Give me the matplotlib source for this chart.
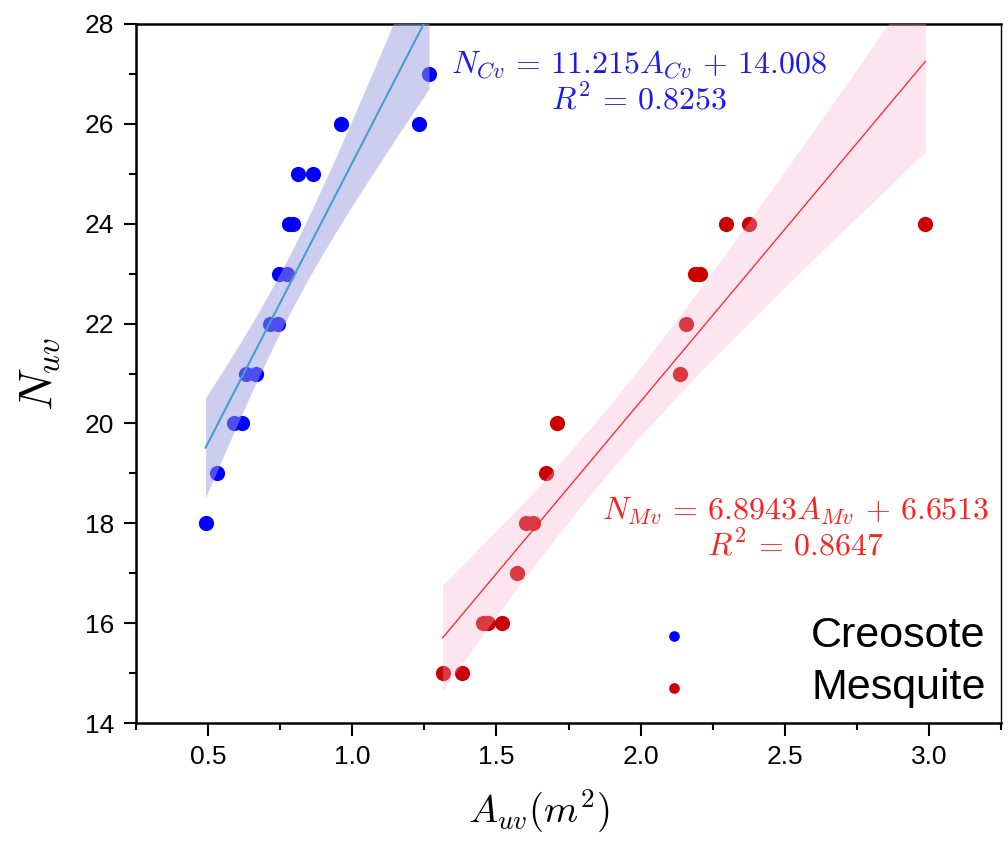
import matplotlib

matplotlib.use("Agg")
import matplotlib.pyplot as plt
import numpy as np
from matplotlib.ticker import FormatStrFormatter, MultipleLocator

# Creosote samples: canopy area (m^2) vs count
creo_area = [0.491, 0.532, 0.588, 0.616, 0.630, 0.665, 0.716, 0.744, 0.747,
             0.775, 0.780, 0.795, 0.812, 0.864, 0.962, 1.231, 1.266]
creo_count = [18, 19, 20, 20, 21, 21, 22, 22, 23, 23, 24, 24, 25, 25, 26, 26, 27]

# Mesquite samples
mesq_area = [1.313, 1.382, 1.452, 1.471, 1.521, 1.572, 1.602, 1.627, 1.673,
             1.709, 2.135, 2.156, 2.190, 2.205, 2.296, 2.377, 2.988]
mesq_count = [15, 15, 16, 16, 16, 17, 18, 18, 19, 20, 21, 22, 23, 23, 24, 24, 24]

# fitted coefficients as reported on the chart
creo_fit = (11.215, 14.008, 0.8253)
mesq_fit = (6.8943, 6.6513, 0.8647)

T975 = 2.131  # t(0.975, df=15)

plt.rcParams["mathtext.fontset"] = "cm"
plt.rcParams["font.family"] = ["Liberation Sans", "DejaVu Sans"]


def fit_band(x, y, slope, icpt):
    """Line and 95% confidence band of the mean, over the data x-range."""
    x = np.asarray(x, float)
    y = np.asarray(y, float)
    n = len(x)
    xs = np.linspace(x.min(), x.max(), 100)
    yhat = slope * xs + icpt
    resid = y - (slope * x + icpt)
    s = np.sqrt(np.sum(resid ** 2) / (n - 2))
    sxx = np.sum((x - x.mean()) ** 2)
    half = T975 * s * np.sqrt(1 / n + (xs - x.mean()) ** 2 / sxx)
    return xs, yhat, half


fig = plt.figure(figsize=(10.08, 8.42), dpi=100)
ax = fig.add_axes([0.135, 0.1413, 0.858, 0.8302])

ax.scatter(creo_area, creo_count, s=120, color="#0000ff", lw=0, zorder=2,
           label="Creosote")
ax.scatter(mesq_area, mesq_count, s=120, color="#cc0000", lw=0, zorder=2,
           label="Mesquite")

xs, yh, half = fit_band(creo_area, creo_count, creo_fit[0], creo_fit[1])
ax.fill_between(xs, yh - half, yh + half, color="#9d9de0", alpha=0.5, lw=0,
                zorder=3)
ax.plot(xs, yh, color="#ff2020", lw=1.2, zorder=4)
ax.plot(xs, yh, color="#1eb4f0", lw=1.2, zorder=5)

xs, yh, half = fit_band(mesq_area, mesq_count, mesq_fit[0], mesq_fit[1])
ax.fill_between(xs, yh - half, yh + half, color="#f9b2d1", alpha=0.33, lw=0,
                zorder=3)
ax.plot(xs, yh, color="#ff2020", lw=0.9, zorder=4)

ax.text(0.581, 0.917,
        r"$N_{Cv}\, =\, %.3fA_{Cv}\, +\, %.3f$" "\n" r"$R^2\, =\, %.4f$" % creo_fit,
        transform=ax.transAxes, ha="center", va="center", color="#1a1aee",
        fontsize=23, linespacing=1.15, multialignment="center")
ax.text(0.7627, 0.278,
        r"$N_{Mv}\, =\, %.4fA_{Mv}\, +\, %.4f$" "\n" r"$R^2\, =\, %.4f$" % mesq_fit,
        transform=ax.transAxes, ha="center", va="center", color="#ff2020",
        fontsize=23, linespacing=1.15, multialignment="center")

ax.set_xlim(0.25, 3.25)
ax.set_ylim(14, 28)
ax.xaxis.set_major_locator(MultipleLocator(0.5))
ax.xaxis.set_minor_locator(MultipleLocator(0.25))
ax.yaxis.set_major_locator(MultipleLocator(2))
ax.yaxis.set_minor_locator(MultipleLocator(1))
ax.xaxis.set_major_formatter(FormatStrFormatter("%.1f"))
ax.tick_params(which="both", direction="out", width=1.5, labelsize=19,
               top=False, right=False)
ax.tick_params(which="major", length=9, pad=7)
ax.tick_params(which="minor", length=5)
for side in ("left", "bottom", "top"):
    ax.spines[side].set_linewidth(1.8)
ax.spines["right"].set_linewidth(1.0)

ax.set_xlabel(r"$A_{uv}(m^2)$", fontsize=28, va="center")
ax.xaxis.set_label_coords(0.465, -0.127)
ax.set_ylabel(r"$N_{uv}$", fontsize=34, va="center")
ax.yaxis.set_label_coords(-0.111, 0.5)

leg = ax.legend(loc="lower right", frameon=False, fontsize=31,
                markerscale=0.7, handletextpad=2.7, labelspacing=0.28,
                borderaxespad=0.1, handlelength=1.0, borderpad=0.25)

fig.savefig("out.png", dpi=100)
